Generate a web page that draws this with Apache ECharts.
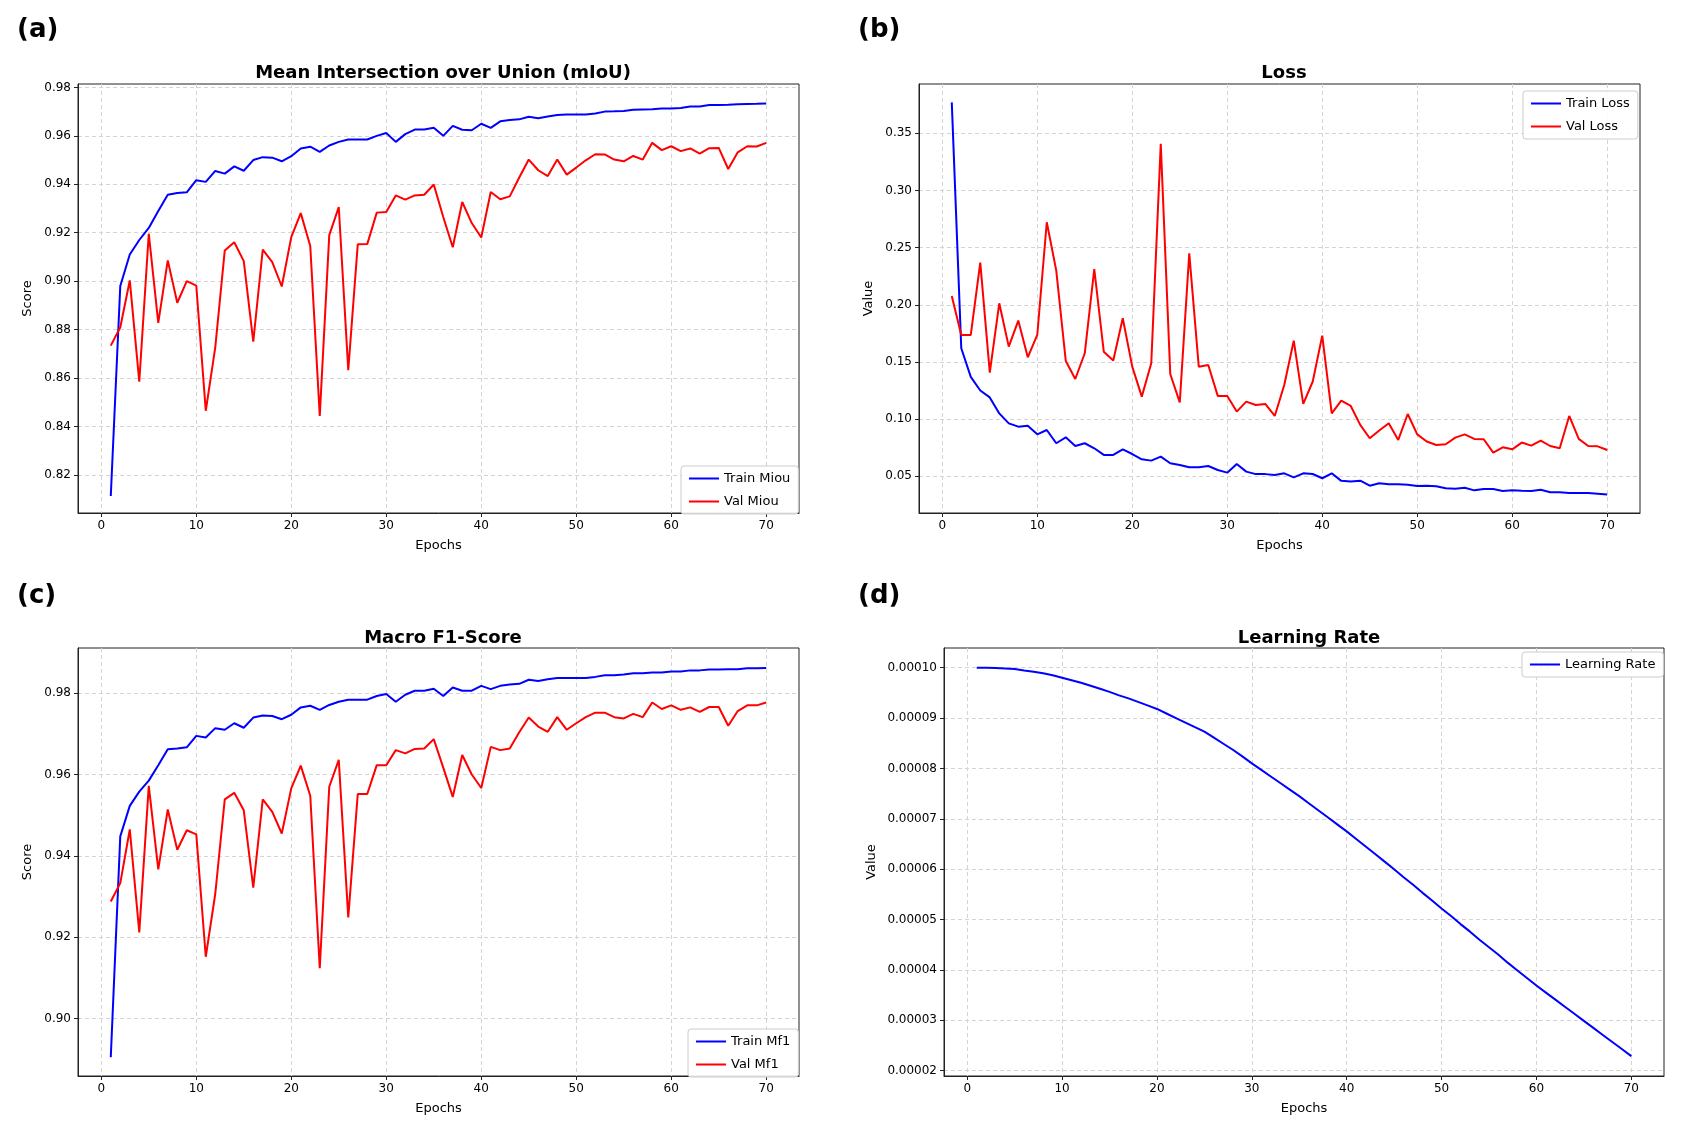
<!DOCTYPE html>
<html><head><meta charset="utf-8">
<script src="https://cdn.jsdelivr.net/npm/echarts@6/dist/echarts.min.js"></script>
<style>html,body{margin:0;padding:0;background:#fff}#c{width:1681px;height:1133px}</style>
</head><body><div id="c"></div>
<script>
const epochs = Array.from({length:70},(_,i)=>i+1);
const trainMiou = [0.8113,0.898,0.911,0.917,0.922,0.929,0.9357,0.9364,0.9367,0.9417,0.941,0.9455,0.9444,0.9474,0.9456,0.950,0.9512,0.951,0.9495,0.9516,0.9548,0.9555,0.9534,0.956,0.9575,0.9585,0.9585,0.9585,0.960,0.9612,0.9575,0.9607,0.9626,0.9626,0.9633,0.960,0.9641,0.9625,0.9623,0.965,0.9633,0.966,0.9665,0.9668,0.9679,0.9673,0.968,0.9686,0.9688,0.9688,0.9688,0.9692,0.970,0.9701,0.9703,0.9708,0.9709,0.971,0.9713,0.9713,0.9715,0.9721,0.9721,0.9727,0.9727,0.9728,0.973,0.9731,0.9732,0.9734];
const valMiou = [0.8734,0.881,0.9003,0.8585,0.9196,0.8828,0.9086,0.8911,0.900,0.8982,0.8465,0.8727,0.9127,0.9161,0.9083,0.875,0.913,0.9079,0.8978,0.9182,0.9281,0.9145,0.8444,0.919,0.9306,0.8633,0.9152,0.9153,0.9283,0.9286,0.9354,0.9337,0.9354,0.9357,0.9399,0.9265,0.914,0.9327,0.924,0.918,0.9368,0.9338,0.935,0.9428,0.9502,0.9458,0.9434,0.9502,0.944,0.9469,0.9499,0.9524,0.9523,0.9502,0.9495,0.9517,0.9502,0.9571,0.9541,0.9557,0.9537,0.9548,0.9527,0.9549,0.955,0.9463,0.9532,0.9557,0.9556,0.9571];
const trainLoss = [0.377,0.162,0.137,0.125,0.119,0.105,0.0963,0.0934,0.0943,0.0867,0.0905,0.0789,0.0841,0.0765,0.0789,0.0745,0.0687,0.0687,0.0736,0.0695,0.0649,0.0637,0.0672,0.0614,0.0599,0.0579,0.0579,0.059,0.0555,0.0532,0.0608,0.0541,0.0519,0.0519,0.0512,0.0526,0.0491,0.0526,0.052,0.0483,0.0526,0.046,0.0455,0.0462,0.0418,0.0439,0.043,0.043,0.0427,0.0415,0.0418,0.0413,0.0395,0.0392,0.040,0.0377,0.0389,0.0389,0.0372,0.0377,0.0374,0.0372,0.0383,0.036,0.036,0.0354,0.0354,0.0354,0.0348,0.034];
const valLoss = [0.2077,0.1736,0.1736,0.2369,0.1407,0.2013,0.1634,0.1862,0.1541,0.1736,0.2722,0.2299,0.1509,0.1351,0.1576,0.2313,0.159,0.1512,0.1882,0.1459,0.1197,0.1488,0.3407,0.1395,0.1147,0.245,0.1459,0.1474,0.1203,0.1203,0.1066,0.1153,0.1124,0.1133,0.1028,0.1299,0.1686,0.1133,0.1329,0.173,0.1051,0.1162,0.1115,0.095,0.0833,0.09,0.0964,0.0818,0.1045,0.0867,0.0804,0.0774,0.078,0.0838,0.0867,0.0827,0.0824,0.0707,0.0754,0.0736,0.0795,0.0768,0.0812,0.0765,0.0745,0.1028,0.0827,0.0765,0.0762,0.073];
const trainMf1 = [0.8905,0.9448,0.9523,0.9558,0.9585,0.9623,0.9662,0.9664,0.9667,0.9695,0.9691,0.9714,0.971,0.9726,0.9715,0.974,0.9745,0.9744,0.9736,0.9747,0.9765,0.9769,0.9759,0.9771,0.9779,0.9784,0.9784,0.9784,0.9793,0.9798,0.9779,0.9796,0.9806,0.9806,0.9811,0.9793,0.9814,0.9806,0.9806,0.9818,0.981,0.9818,0.9821,0.9823,0.9833,0.983,0.9834,0.9837,0.9837,0.9837,0.9837,0.984,0.9844,0.9844,0.9846,0.9849,0.9849,0.9851,0.9851,0.9853,0.9853,0.9856,0.9856,0.9858,0.9858,0.9859,0.9859,0.9861,0.9861,0.9862];
const valMf1 = [0.9288,0.9333,0.9465,0.9212,0.9572,0.9367,0.9514,0.9415,0.9463,0.9453,0.9152,0.9307,0.9539,0.9555,0.9512,0.9322,0.9539,0.9508,0.9455,0.9566,0.9622,0.9548,0.9124,0.957,0.9636,0.9249,0.9552,0.9552,0.9623,0.9623,0.966,0.9652,0.9663,0.9664,0.9687,0.9617,0.9545,0.9648,0.960,0.9567,0.9668,0.966,0.9664,0.9704,0.974,0.9718,0.9705,0.9741,0.971,0.9726,0.9741,0.9752,0.9752,0.9741,0.9738,0.9749,0.9741,0.9777,0.9761,0.977,0.9759,0.9765,0.9754,0.9766,0.9766,0.972,0.9756,0.977,0.977,0.9777];
const learningRate = [10.00,9.998,9.993,9.985,9.975,9.945,9.92,9.89,9.85,9.80,9.75,9.70,9.64,9.58,9.52,9.45,9.39,9.32,9.25,9.18,9.09,9.00,8.91,8.82,8.73,8.61,8.49,8.37,8.24,8.10,7.97,7.84,7.71,7.58,7.45,7.31,7.17,7.03,6.89,6.75,6.60,6.45,6.30,6.15,6.00,5.84,5.69,5.53,5.38,5.22,5.07,4.91,4.76,4.60,4.45,4.30,4.14,3.99,3.84,3.69,3.55,3.41,3.27,3.13,2.99,2.85,2.71,2.57,2.43,2.29].map(v=>v*1e-5);
const xTicks = [0,10,20,30,40,50,60,70];
const ticksA = [0.82,0.84,0.86,0.88,0.90,0.92,0.94,0.96,0.98];
const ticksB = [0.05,0.10,0.15,0.20,0.25,0.30,0.35];
const ticksC = [0.90,0.92,0.94,0.96,0.98];
const ticksD = [0.00002,0.00003,0.00004,0.00005,0.00006,0.00007,0.00008,0.00009,0.00010];

const F = 'DejaVu Sans';
const grids = [
  {left:78, top:84, width:721, height:429},
  {left:919, top:84, width:721, height:429},
  {left:78, top:648, width:721, height:428},
  {left:944, top:648, width:720, height:428}
];
const gridLine = {show:true, lineStyle:{color:'#d4d4d4', type:[4,3], width:1}};
function xAx(i){return {type:'value', gridIndex:i, min:-2.45, max:73.45,
  name:'Epochs', nameLocation:'middle', nameGap:26, nameTextStyle:{fontFamily:F,fontSize:13,color:'#000'},
  axisLine:{onZero:false,lineStyle:{color:'#222'}}, axisTick:{customValues:xTicks,length:4,lineStyle:{color:'#222'}},
  axisLabel:{customValues:xTicks, fontFamily:F, fontSize:12, color:'#000', margin:7},
  splitLine:gridLine};}
function yAx(i,min,max,ticks,name,dec,gap){return {type:'value', gridIndex:i, min:min, max:max,
  name:name, nameLocation:'middle', nameGap:gap, nameTextStyle:{fontFamily:F,fontSize:13,color:'#000'},
  axisLine:{onZero:false,lineStyle:{color:'#222'}}, axisTick:{customValues:ticks,length:4,lineStyle:{color:'#222'}},
  axisLabel:{customValues:ticks, fontFamily:F, fontSize:12, color:'#000', margin:7, formatter:v=>v.toFixed(dec)},
  splitLine:gridLine};}
function ser(name,data,color,i){return {name:name,type:'line',xAxisIndex:i,yAxisIndex:i,showSymbol:false,symbol:'none',
  data:data.map((v,k)=>[epochs[k],v]), lineStyle:{color:color,width:2}, itemStyle:{color:color}, animation:false};}
function leg(names,pos){return Object.assign({data:names, orient:'vertical', icon:'rect', itemWidth:30, itemHeight:2,
  itemGap:10, padding:[6,8,6,8], borderColor:'#ccc', borderWidth:1, borderRadius:3, backgroundColor:'rgba(255,255,255,0.85)',
  textStyle:{fontFamily:F,fontSize:13,color:'#000'}},pos);}
const tstyle = {fontFamily:F,fontSize:18,fontWeight:'bold',color:'#000'};
const lstyle = {fontFamily:F,fontSize:26,fontWeight:'bold',color:'#000'};
const option = {
  backgroundColor:'#fff', animation:false,
  title:[
    {text:'Mean Intersection over Union (mIoU)', left:438, top:59, textAlign:'center', textStyle:tstyle},
    {text:'Loss', left:1279, top:59, textAlign:'center', textStyle:tstyle},
    {text:'Macro F1-Score', left:438, top:624, textAlign:'center', textStyle:tstyle},
    {text:'Learning Rate', left:1304, top:624, textAlign:'center', textStyle:tstyle},
    {text:'(a)', left:12, top:12, textStyle:lstyle},
    {text:'(b)', left:853, top:12, textStyle:lstyle},
    {text:'(c)', left:12, top:578, textStyle:lstyle},
    {text:'(d)', left:853, top:578, textStyle:lstyle}
  ],
  grid: grids.map(g=>Object.assign({show:true,borderColor:'#222',borderWidth:1},g)),
  xAxis:[xAx(0),xAx(1),xAx(2),xAx(3)],
  yAxis:[
    yAx(0,0.8043,0.9814,ticksA,'Score',2,44),
    yAx(1,0.0179,0.3931,ticksB,'Value',2,44),
    yAx(2,0.8859,0.9911,ticksC,'Score',2,44),
    yAx(3,0.00001895,0.0001039,ticksD,'Value',5,66)
  ],
  legend:[
    leg(['Train Miou','Val Miou'],{left:681,top:466}),
    leg(['Train Loss','Val Loss'],{left:1523,top:91}),
    leg(['Train Mf1','Val Mf1'],{left:688,top:1029}),
    leg(['Learning Rate'],{left:1522,top:652})
  ],
  series:[
    ser('Train Miou',trainMiou,'#0000ff',0), ser('Val Miou',valMiou,'#ff0000',0),
    ser('Train Loss',trainLoss,'#0000ff',1), ser('Val Loss',valLoss,'#ff0000',1),
    ser('Train Mf1',trainMf1,'#0000ff',2), ser('Val Mf1',valMf1,'#ff0000',2),
    ser('Learning Rate',learningRate,'#0000ff',3)
  ]
};
const chart = echarts.init(document.getElementById('c'),null,{renderer:'canvas'});
chart.setOption(option);
</script></body></html>
